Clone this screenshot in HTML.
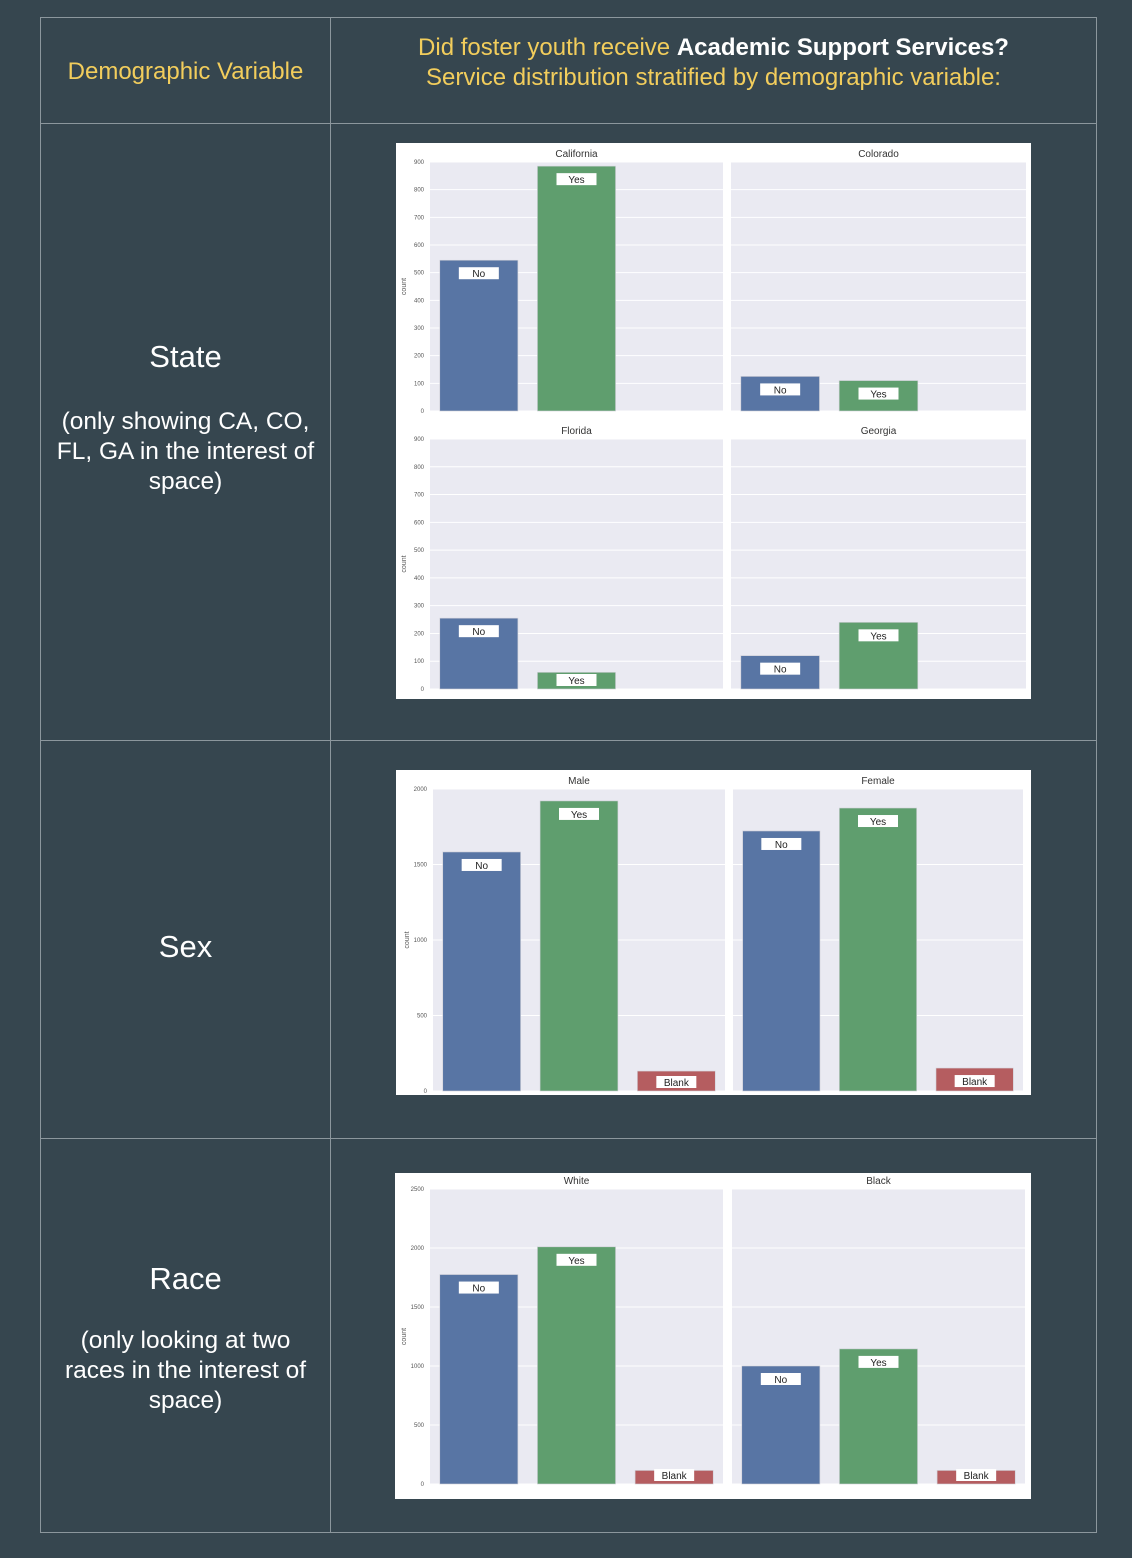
<!DOCTYPE html>
<html><head><meta charset="utf-8">
<style>
html,body{margin:0;padding:0;}
body{width:1132px;height:1558px;background:#36464f;position:relative;overflow:hidden;font-family:"Liberation Sans",sans-serif;}
.line{position:absolute;background:#8c979d;}
.txt{position:absolute;text-align:center;color:#fff;}
.yel{color:#f2cd5c;}
svg{position:absolute;left:0;top:0;}
</style></head>
<body>
<div class="line" style="left:40px;top:17px;width:1057px;height:1px"></div>
<div class="line" style="left:40px;top:123px;width:1057px;height:1px"></div>
<div class="line" style="left:40px;top:740px;width:1057px;height:1px"></div>
<div class="line" style="left:40px;top:1138px;width:1057px;height:1px"></div>
<div class="line" style="left:40px;top:1532px;width:1057px;height:1px"></div>
<div class="line" style="left:40px;top:17px;width:1px;height:1516px"></div>
<div class="line" style="left:330px;top:17px;width:1px;height:1516px"></div>
<div class="line" style="left:1096px;top:17px;width:1px;height:1516px"></div>

<div class="txt yel" style="left:41px;width:289px;top:58px;font-size:24px">Demographic Variable</div>
<div class="txt yel" style="left:331px;width:765px;top:33px;font-size:24px;line-height:30px">Did foster youth receive <b style="color:#fff">Academic Support Services?</b><br>Service distribution stratified by demographic variable:</div>

<div class="txt" style="left:41px;width:289px;top:339px;font-size:31px">State</div>
<div class="txt" style="left:36px;width:299px;top:407px;font-size:24.5px;line-height:30px">(only showing CA, CO,<br>FL, GA in the interest of<br>space)</div>
<div class="txt" style="left:41px;width:289px;top:929px;font-size:31px">Sex</div>
<div class="txt" style="left:41px;width:289px;top:1261px;font-size:31px">Race</div>
<div class="txt" style="left:36px;width:299px;top:1326px;font-size:24.5px;line-height:30px">(only looking at two<br>races in the interest of<br>space)</div>

<svg id="chart" width="1132" height="1558"></svg>

<script>
const categories = ["No","Yes","Blank"];
const stateNames = ["California","Colorado","Florida","Georgia"];
const stateNo = [545,125,255,120];
const stateYes = [885,110,60,240];
const stateBlank = [0,0,0,0];
const stateTicks = [0,100,200,300,400,500,600,700,800,900];
const sexNames = ["Male","Female"];
const sexNo = [1583,1722];
const sexYes = [1921,1874];
const sexBlank = [132,152];
const sexTicks = [0,500,1000,1500,2000];
const raceNames = ["White","Black"];
const raceNo = [1775,1000];
const raceYes = [2010,1145];
const raceBlank = [115,115];
const raceTicks = [0,500,1000,1500,2000,2500];

const NS = "http://www.w3.org/2000/svg";
const svg = document.getElementById("chart");
const colors = {No:"#5875a4",Yes:"#5f9e6e",Blank:"#b55d60"};
function mk(tag, attrs, parent){
  const e = document.createElementNS(NS, tag);
  for (const k in attrs) e.setAttribute(k, attrs[k]);
  (parent||svg).appendChild(e);
  return e;
}
function box(x,y,w,h,name){
  const r = mk("rect",{x:x,y:y,width:w,height:h,fill:"#fff"});
  
  
}
function panel(x0,x1,yTop,yBot,ticks,title,vals,showAxis,name){
  const max = ticks[ticks.length-1];
  const ys = v => yBot - (v/max)*(yBot-yTop);
  const bg = mk("rect",{x:x0,y:yTop,width:x1-x0,height:yBot-yTop,fill:"#eaeaf2"});
  
  
  ticks.forEach(t=>{
    const gl = mk("line",{x1:x0,x2:x1,y1:ys(t),y2:ys(t),stroke:"#fff","stroke-width":1});
    
    
    if(showAxis){
      const tl = mk("text",{x:x0-6,y:ys(t)+2,"font-size":6,fill:"#555","text-anchor":"end"});
      tl.textContent = t;
      
      
    }
  });
  if(showAxis){
    const cy=(yTop+yBot)/2;
    const yl = mk("text",{x:x0-24,y:cy,"font-size":7,fill:"#555","text-anchor":"middle",transform:"rotate(-90 "+(x0-24)+" "+cy+")"});
    yl.textContent="count";
    
    
  }
  const tt = mk("text",{x:(x0+x1)/2,y:yTop-5,"font-size":10,fill:"#333","text-anchor":"middle"});
  tt.textContent = title;
  
  
  const step=(x1-x0)/categories.length, bw=step*0.8;
  categories.forEach((c,i)=>{
    const v=vals[i];
    if(!v) return;
    const bx=x0+step*i+(step-bw)/2, by=ys(v);
    const b = mk("rect",{x:bx,y:by,width:bw,height:yBot-by,fill:colors[c],stroke:"#d0d0d8","stroke-width":0.6});
    
    
    const ly = Math.min(by+7, yBot-15);
    const lb = mk("rect",{x:bx+bw/2-20,y:ly,width:40,height:12,fill:"#fff"});
    
    
    const lt = mk("text",{x:bx+bw/2,y:ly+10,"font-size":10,fill:"#222","text-anchor":"middle"});
    lt.textContent=c;
    
    
  });
}
box(396,143,635,556,"state-chart");
panel(430,723,162,411,stateTicks,stateNames[0],[stateNo[0],stateYes[0],stateBlank[0]],true,"california");
panel(731,1026,162,411,stateTicks,stateNames[1],[stateNo[1],stateYes[1],stateBlank[1]],false,"colorado");
panel(430,723,439,689,stateTicks,stateNames[2],[stateNo[2],stateYes[2],stateBlank[2]],true,"florida");
panel(731,1026,439,689,stateTicks,stateNames[3],[stateNo[3],stateYes[3],stateBlank[3]],false,"georgia");
box(396,770,635,325,"sex-chart");
panel(433,725,789,1091,sexTicks,sexNames[0],[sexNo[0],sexYes[0],sexBlank[0]],true,"male");
panel(733,1023,789,1091,sexTicks,sexNames[1],[sexNo[1],sexYes[1],sexBlank[1]],false,"female");
box(395,1173,636,326,"race-chart");
panel(430,723,1189,1484,raceTicks,raceNames[0],[raceNo[0],raceYes[0],raceBlank[0]],true,"white");
panel(732,1025,1189,1484,raceTicks,raceNames[1],[raceNo[1],raceYes[1],raceBlank[1]],false,"black");
</script>
</body></html>
